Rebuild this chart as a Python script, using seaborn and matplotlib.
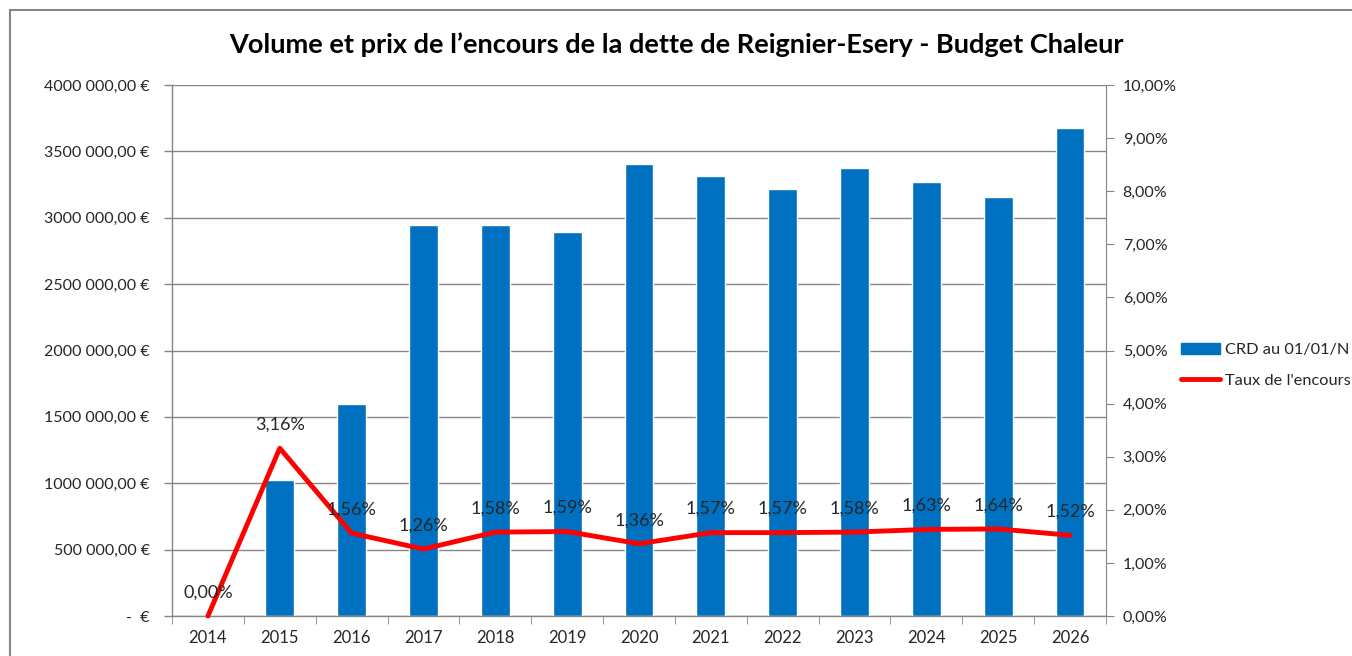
import seaborn as sns
import pandas as pd
import matplotlib.pyplot as plt
import matplotlib.patches as mpatches
from matplotlib.lines import Line2D

# data
years = ["2014", "2015", "2016", "2017", "2018", "2019", "2020",
         "2021", "2022", "2023", "2024", "2025", "2026"]
crd = [0, 1025000, 1600000, 2945000, 2945000, 2893000, 3405000,
       3315000, 3215000, 3375000, 3268000, 3157000, 3677000]
taux = [0.0, 3.16, 1.56, 1.26, 1.58, 1.59, 1.36, 1.57, 1.57, 1.58, 1.63, 1.64, 1.52]
left_ticks = [0, 500000, 1000000, 1500000, 2000000, 2500000, 3000000, 3500000, 4000000]
left_labels = ["-  €", "500 000,00 €", "1000 000,00 €", "1500 000,00 €", "2000 000,00 €",
               "2500 000,00 €", "3000 000,00 €", "3500 000,00 €", "4000 000,00 €"]

sns.set_style("white")
plt.rcParams["font.family"] = ["Lato", "DejaVu Sans"]

df = pd.DataFrame({"Annee": years, "CRD": crd, "Taux": taux})
df["pos"] = range(len(years))

blue = "#0070C0"
red = "#FF0000"
grey = "#868686"
txt = "#262626"

fig = plt.figure(figsize=(13.52, 6.56), dpi=100)
ax = fig.add_axes([172 / 1352, 1 - 616 / 656, (1106 - 172) / 1352, (616 - 85) / 656])

sns.barplot(data=df, x="Annee", y="CRD", color=blue, width=0.4, saturation=1, ax=ax)
ax.set_ylim(0, 4000000)
ax.set_xlim(-0.5, len(years) - 0.5)
ax.set_yticks(left_ticks)
ax.set_yticklabels(left_labels, fontsize=11.5, color=txt)
ax.set_xlabel("")
ax.set_ylabel("")
ax.tick_params(axis="x", length=0, pad=10, labelsize=12, labelcolor=txt)
ax.tick_params(axis="y", direction="out", length=6, width=1, color=grey, pad=10, left=True)
ax.set_xticks([i + 0.5 for i in range(-1, len(years))], minor=True)
ax.tick_params(axis="x", which="minor", direction="out", length=6, color=grey, bottom=True)
ax.grid(axis="y", color=grey, linewidth=1)
ax.set_axisbelow(True)
for s in ["top", "right"]:
    ax.spines[s].set_visible(False)
for s in ["left", "bottom"]:
    ax.spines[s].set_color(grey)
    ax.spines[s].set_linewidth(1)

ax2 = ax.twinx()
sns.lineplot(data=df, x="pos", y="Taux", color=red, linewidth=3.5, ax=ax2, clip_on=False)
ax2.set_ylim(0, 10)
ax2.set_xlim(-0.5, len(years) - 0.5)
ax2.set_yticks(range(0, 11))
ax2.set_yticklabels([f"{v},00%" for v in range(0, 11)], fontsize=11.5, color=txt)
ax2.set_ylabel("")
ax2.set_xlabel("")
ax2.tick_params(axis="y", direction="out", length=6, color=grey, pad=6, right=True)
for s in ["top", "left", "bottom"]:
    ax2.spines[s].set_visible(False)
ax2.spines["right"].set_color(grey)

for p, t in zip(df["pos"], df["Taux"]):
    ax2.annotate(f"{t:.2f}%".replace(".", ","), (p, t), xytext=(0, 17),
                 textcoords="offset points", ha="center", va="center",
                 fontsize=13, color=txt)

fig.text(0.5, 1 - 45 / 656, "Volume et prix de l\u2019encours de la dette de Reignier-Esery - Budget Chaleur",
         ha="center", va="center", fontsize=19.5, fontweight="bold", color="black")

handles = [mpatches.Patch(color=blue, label="CRD au 01/01/N"),
           Line2D([0], [0], color=red, linewidth=3.5, label="Taux de l'encours")]
fig.legend(handles=handles, loc="upper left", bbox_to_anchor=(1166 / 1352, 1 - 328 / 656),
           frameon=False, fontsize=11.8, handlelength=2.4, handletextpad=0.3,
           labelspacing=1.0, labelcolor=txt)

fig.patches.append(mpatches.Rectangle((10 / 1352, -0.1), 1.2, 1.1 - 10 / 656,
                                      transform=fig.transFigure, fill=False,
                                      edgecolor=grey, linewidth=1.5))

fig.savefig("out.png", dpi=100)
